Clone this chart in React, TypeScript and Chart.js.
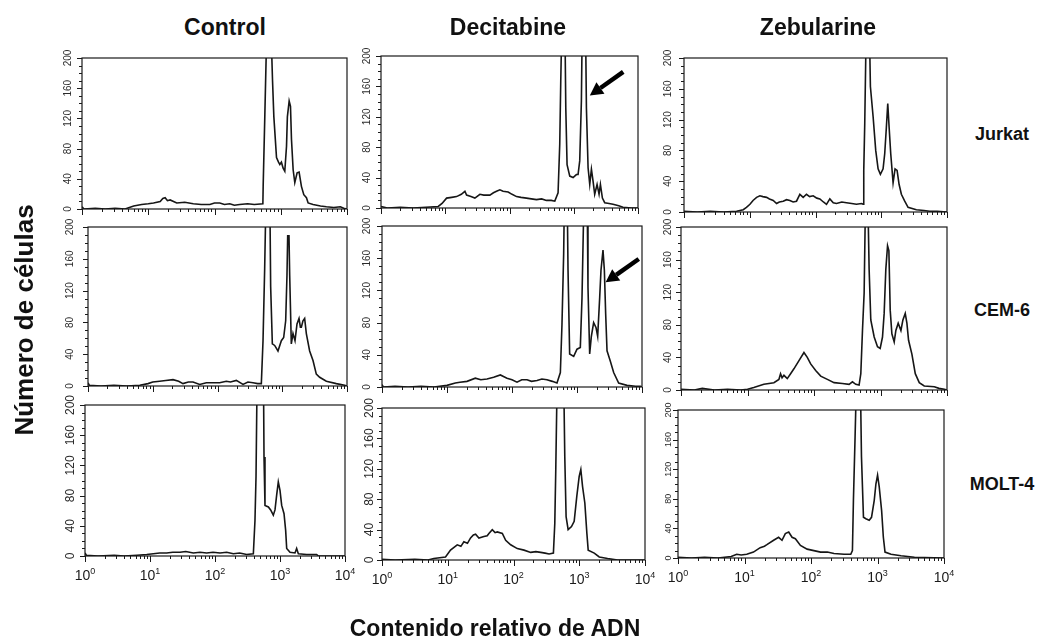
import React, { useEffect, useRef } from 'react';
import { Chart, registerables } from 'chart.js';

Chart.register(...registerables);

type Pt = [number, number];

// ---------- labels ----------
const columnTitles = ['Control', 'Decitabine', 'Zebularine'];
const rowTitles = ['Jurkat', 'CEM-6', 'MOLT-4'];
const yAxisTitle = 'Número de células';
const xAxisTitle = 'Contenido relativo de ADN';
const yTickLabels = [0, 40, 80, 120, 160, 200];
const xTickExponents = ['0', '1', '2', '3', '4'];

// ---------- data: [log10(DNA content), cell count] ----------
const jurkatControl: Pt[] = [[0,3],[0.03,0],[0.2,1],[0.35,0],[0.5,1],[0.65,0],[0.78,4],[0.9,6],[1.0,7],[1.08,8],[1.18,10],[1.22,14],[1.255,15],[1.29,11],[1.33,12],[1.43,8],[1.55,9],[1.68,7],[1.8,6],[1.93,6],[2.0,8],[2.08,8],[2.15,6],[2.23,7],[2.3,5],[2.38,6],[2.5,7],[2.6,6],[2.73,7],[2.735,32],[2.76,125],[2.795,260],[2.845,260],[2.876,170],[2.896,122],[2.936,68],[2.966,62],[2.986,59],[3.01,62],[3.036,54],[3.061,50],[3.087,83],[3.1,122],[3.127,143],[3.147,136],[3.162,92],[3.187,52],[3.212,35],[3.247,48],[3.277,49],[3.312,30],[3.348,19],[3.388,15],[3.413,8],[3.488,6],[3.6,4],[3.689,3],[3.8,2],[3.9,3],[3.95,1],[4,0]];
const jurkatDecitabine: Pt[] = [[0,2],[0.1,0],[0.3,1],[0.5,0],[0.7,1],[0.891,2],[0.95,6],[1.021,13],[1.1,14],[1.176,15],[1.25,18],[1.306,22],[1.332,17],[1.4,15],[1.461,13],[1.539,18],[1.6,17],[1.694,17],[1.75,20],[1.798,22],[1.85,24],[1.9,22],[1.979,21],[2.04,18],[2.109,15],[2.18,14],[2.264,13],[2.34,12],[2.42,11],[2.5,12],[2.575,10],[2.65,10],[2.705,9],[2.756,20],[2.782,84],[2.798,168],[2.819,260],[2.86,260],[2.876,132],[2.896,57],[2.938,42],[2.99,40],[3.041,44],[3.067,44],[3.093,62],[3.119,141],[3.135,260],[3.181,260],[3.197,132],[3.223,53],[3.249,31],[3.275,51],[3.301,35],[3.326,18],[3.363,31],[3.394,18],[3.415,31],[3.446,13],[3.482,7],[3.55,6],[3.611,5],[3.7,3],[3.767,1],[3.9,0],[4,0]];
const jurkatZebularine: Pt[] = [[0,1],[0.2,0],[0.4,1],[0.6,0],[0.8,1],[0.901,3],[0.95,6],[1.003,10],[1.05,15],[1.104,19],[1.154,21],[1.2,20],[1.256,19],[1.3,17],[1.357,15],[1.408,11],[1.45,13],[1.509,14],[1.56,16],[1.61,15],[1.66,13],[1.711,14],[1.762,23],[1.813,19],[1.863,23],[1.91,20],[1.965,21],[2.02,18],[2.066,17],[2.12,13],[2.167,10],[2.218,17],[2.27,12],[2.319,11],[2.4,13],[2.471,12],[2.55,11],[2.623,10],[2.7,11],[2.724,10],[2.734,54],[2.749,115],[2.775,260],[2.815,260],[2.835,163],[2.876,124],[2.916,80],[2.952,56],[2.987,49],[3.028,56],[3.053,76],[3.078,110],[3.099,141],[3.119,111],[3.144,76],[3.18,38],[3.21,56],[3.241,54],[3.271,36],[3.306,23],[3.357,14],[3.408,6],[3.534,3],[3.65,2],[3.737,1],[3.85,1],[4,0]];
const cemControl: Pt[] = [[0,4],[0.02,1],[0.2,0],[0.4,1],[0.6,0],[0.8,1],[0.927,3],[1.0,5],[1.107,6],[1.2,7],[1.313,8],[1.4,6],[1.467,3],[1.55,5],[1.622,5],[1.725,2],[1.828,4],[1.93,4],[2.033,4],[2.136,6],[2.2,5],[2.291,7],[2.394,2],[2.47,5],[2.548,4],[2.62,3],[2.677,3],[2.703,57],[2.728,146],[2.754,260],[2.806,260],[2.821,125],[2.847,53],[2.883,51],[2.934,44],[2.986,57],[3.022,61],[3.053,82],[3.073,139],[3.084,189],[3.104,189],[3.115,139],[3.14,53],[3.166,66],[3.197,57],[3.228,78],[3.259,85],[3.28,74],[3.295,74],[3.32,82],[3.346,85],[3.372,66],[3.423,44],[3.475,32],[3.526,15],[3.578,11],[3.681,6],[3.835,3],[3.964,1],[4,0]];
const cemDecitabine: Pt[] = [[0,3],[0.02,0],[0.2,1],[0.4,0],[0.6,1],[0.8,0],[1.0,2],[1.128,5],[1.2,6],[1.308,7],[1.436,11],[1.52,9],[1.615,10],[1.718,12],[1.821,15],[1.923,11],[2.0,9],[2.077,6],[2.15,9],[2.231,9],[2.3,7],[2.385,8],[2.46,10],[2.538,9],[2.62,7],[2.692,5],[2.744,18],[2.769,78],[2.795,166],[2.81,260],[2.846,260],[2.862,145],[2.887,41],[2.949,38],[3.0,47],[3.051,49],[3.077,111],[3.113,260],[3.154,260],[3.169,124],[3.195,41],[3.221,63],[3.256,80],[3.292,74],[3.318,63],[3.349,111],[3.369,145],[3.4,170],[3.421,145],[3.441,91],[3.462,45],[3.513,32],[3.564,18],[3.641,5],[3.769,2],[3.9,1],[3.974,1],[4,0]];
const cemZebularine: Pt[] = [[0,1],[0.2,0],[0.32,2],[0.5,0],[0.7,1],[0.9,0],[1.0,1],[1.095,3],[1.246,7],[1.397,9],[1.472,13],[1.497,20],[1.52,15],[1.548,18],[1.598,14],[1.648,20],[1.698,26],[1.774,36],[1.849,46],[1.899,40],[1.95,32],[2.025,24],[2.101,17],[2.201,13],[2.302,9],[2.427,8],[2.528,7],[2.578,10],[2.628,7],[2.678,6],[2.704,20],[2.729,73],[2.754,119],[2.779,260],[2.804,260],[2.829,148],[2.854,86],[2.905,65],[2.955,53],[2.995,51],[3.03,65],[3.055,94],[3.08,148],[3.106,177],[3.126,171],[3.146,98],[3.171,69],[3.206,59],[3.231,73],[3.266,82],[3.307,73],[3.337,86],[3.372,94],[3.397,82],[3.422,61],[3.472,44],[3.523,20],[3.583,9],[3.658,5],[3.809,4],[3.88,2],[3.96,1],[4,0]];
const moltControl: Pt[] = [[0,4],[0.02,1],[0.2,0],[0.45,1],[0.6,0],[0.8,1],[0.95,2],[1.051,3],[1.15,4],[1.256,4],[1.35,5],[1.462,5],[1.55,6],[1.667,4],[1.77,5],[1.872,4],[1.97,5],[2.077,4],[2.18,5],[2.282,3],[2.38,4],[2.487,2],[2.59,3],[2.615,47],[2.631,105],[2.651,260],[2.744,260],[2.754,131],[2.769,67],[2.821,65],[2.856,61],[2.897,54],[2.923,61],[2.949,81],[2.974,98],[3.0,87],[3.026,67],[3.062,56],[3.087,34],[3.103,10],[3.154,5],[3.231,4],[3.256,10],[3.282,3],[3.41,2],[3.564,2],[3.59,0],[4,0]];
const moltDecitabine: Pt[] = [[0,1],[0.2,0],[0.5,1],[0.7,0],[0.788,2],[0.966,4],[1.042,13],[1.144,20],[1.2,18],[1.245,24],[1.3,22],[1.347,29],[1.39,33],[1.423,34],[1.474,29],[1.55,31],[1.6,32],[1.626,35],[1.677,40],[1.72,36],[1.753,37],[1.83,35],[1.881,26],[1.957,20],[2.058,15],[2.16,13],[2.262,10],[2.34,11],[2.414,10],[2.48,9],[2.541,8],[2.607,9],[2.628,48],[2.643,119],[2.668,260],[2.76,260],[2.78,136],[2.8,57],[2.831,40],[2.882,44],[2.923,51],[2.963,84],[2.999,110],[3.024,119],[3.05,97],[3.085,75],[3.116,35],[3.136,13],[3.228,9],[3.304,4],[3.431,2],[3.583,0],[4,0]];
const moltZebularine: Pt[] = [[0,1],[0.2,0],[0.4,1],[0.6,0],[0.8,2],[0.883,5],[0.95,4],[1.034,5],[1.135,8],[1.236,14],[1.3,16],[1.337,18],[1.438,24],[1.513,28],[1.564,24],[1.614,33],[1.665,35],[1.715,28],[1.765,26],[1.841,17],[1.942,12],[2.043,10],[2.144,8],[2.245,8],[2.346,6],[2.497,5],[2.598,5],[2.623,10],[2.638,78],[2.663,164],[2.689,260],[2.739,260],[2.759,137],[2.789,55],[2.825,53],[2.875,51],[2.91,55],[2.951,78],[2.976,100],[3.001,112],[3.026,96],[3.062,64],[3.088,28],[3.113,8],[3.203,5],[3.354,3],[3.556,1],[4,0]];

// arrows: [tailLog, tailCount, tipLog, tipCount]
const jurkatDecitabineArrow = [3.77, 179, 3.25, 148];
const cemDecitabineArrow = [3.95, 159, 3.44, 130];

// ---------- layout ----------
const PAD = { left: 40, right: 14, top: 10, bottom: 40 };
const FONT = '"Liberation Sans", Arial, Helvetica, sans-serif';

interface PanelCfg {
  data: Pt[];
  box: [number, number, number, number]; // left, top, right, bottom
  yFont: number;
  yOff: number;
  xLabels: boolean;
  arrow?: number[];
}

const panels: PanelCfg[] = [
  { data: jurkatControl, box: [82, 58, 347, 209], yFont: 10, yOff: 14, xLabels: false },
  { data: jurkatDecitabine, box: [381, 56, 638, 208], yFont: 10, yOff: 14, xLabels: false, arrow: jurkatDecitabineArrow },
  { data: jurkatZebularine, box: [684, 58, 947, 212], yFont: 10, yOff: 16, xLabels: false },
  { data: cemControl, box: [88, 227, 347, 386], yFont: 10, yOff: 18, xLabels: false },
  { data: cemDecitabine, box: [382, 226, 642, 387], yFont: 10, yOff: 15, xLabels: false, arrow: cemDecitabineArrow },
  { data: cemZebularine, box: [681, 227, 947, 390], yFont: 10, yOff: 13, xLabels: false },
  { data: moltControl, box: [85, 405, 345, 556], yFont: 12, yOff: 14, xLabels: true },
  { data: moltDecitabine, box: [382, 408, 645, 560], yFont: 12, yOff: 12, xLabels: true },
  { data: moltZebularine, box: [678, 410, 944, 558], yFont: 9, yOff: 9, xLabels: true },
];

const flowAxesPlugin = {
  id: 'flowAxes',
  afterDraw(chart: any, _args: any, opts: any) {
    const { ctx, chartArea: a, scales } = chart;
    const xs = scales.x;
    const ys = scales.y;
    ctx.save();
    ctx.strokeStyle = '#1a1a1a';
    ctx.lineWidth = 1.2;
    ctx.strokeRect(a.left, a.top, a.right - a.left, a.bottom - a.top);

    // y ticks
    ctx.lineWidth = 1;
    for (let v = 0; v <= 200; v += 10) {
      const py = Math.round(ys.getPixelForValue(v)) + 0.5;
      const len = v % 40 === 0 ? 5 : 3;
      ctx.beginPath();
      ctx.moveTo(a.left - len, py);
      ctx.lineTo(a.left, py);
      ctx.stroke();
    }
    // y labels (rotated)
    ctx.fillStyle = '#2a2a2a';
    ctx.font = `${opts.yFont}px ${FONT}`;
    ctx.textAlign = 'center';
    ctx.textBaseline = 'middle';
    for (const v of yTickLabels) {
      const py = ys.getPixelForValue(v);
      ctx.save();
      ctx.translate(a.left - opts.yOff, py);
      ctx.rotate(-Math.PI / 2);
      ctx.fillText(String(v), 0, 0);
      ctx.restore();
    }
    // x ticks (log decades with minor ticks)
    for (let d = 0; d <= 4; d++) {
      for (let k = 1; k <= 9; k++) {
        if (d === 4 && k > 1) break;
        const px = Math.round(xs.getPixelForValue(k * Math.pow(10, d))) + 0.5;
        const len = k === 1 ? 6 : 3;
        ctx.beginPath();
        ctx.moveTo(px, a.bottom);
        ctx.lineTo(px, a.bottom + len);
        ctx.stroke();
      }
    }
    // x labels
    if (opts.xLabels) {
      ctx.fillStyle = '#1a1a1a';
      ctx.textAlign = 'left';
      ctx.textBaseline = 'alphabetic';
      xTickExponents.forEach((e, d) => {
        const px = xs.getPixelForValue(Math.pow(10, d));
        ctx.font = `14px ${FONT}`;
        const w1 = ctx.measureText('10').width;
        ctx.font = `9px ${FONT}`;
        const w2 = ctx.measureText(e).width;
        const start = px - (w1 + w2) / 2;
        const base = a.bottom + 24;
        ctx.font = `14px ${FONT}`;
        ctx.fillText('10', start, base);
        ctx.font = `9px ${FONT}`;
        ctx.fillText(e, start + w1, base - 6);
      });
    }
    // arrow
    if (opts.arrow) {
      const [tl, tc, hl, hc] = opts.arrow;
      const x1 = xs.getPixelForValue(Math.pow(10, tl));
      const y1 = ys.getPixelForValue(tc);
      const x2 = xs.getPixelForValue(Math.pow(10, hl));
      const y2 = ys.getPixelForValue(hc);
      const ang = Math.atan2(y2 - y1, x2 - x1);
      const headLen = 13;
      const headW = 7;
      const bx = x2 - headLen * Math.cos(ang);
      const by = y2 - headLen * Math.sin(ang);
      ctx.strokeStyle = '#000';
      ctx.fillStyle = '#000';
      ctx.lineWidth = 4.5;
      ctx.lineCap = 'butt';
      ctx.beginPath();
      ctx.moveTo(x1, y1);
      ctx.lineTo(bx, by);
      ctx.stroke();
      ctx.beginPath();
      ctx.moveTo(x2, y2);
      ctx.lineTo(bx + headW * Math.sin(ang), by - headW * Math.cos(ang));
      ctx.lineTo(bx - headW * Math.sin(ang), by + headW * Math.cos(ang));
      ctx.closePath();
      ctx.fill();
    }
    ctx.restore();
  },
};

function Panel({ cfg }: { cfg: PanelCfg }) {
  const ref = useRef<HTMLCanvasElement>(null);
  const [l, t, r, b] = cfg.box;
  const w = r - l + PAD.left + PAD.right;
  const h = b - t + PAD.top + PAD.bottom;

  useEffect(() => {
    const chart = new Chart(ref.current as HTMLCanvasElement, {
      type: 'line',
      data: {
        datasets: [
          {
            data: cfg.data.map(([lx, c]) => ({ x: Math.pow(10, lx), y: c })),
            borderColor: '#161616',
            borderWidth: 1.6,
            pointRadius: 0,
            tension: 0,
            fill: false,
          },
        ],
      },
      options: {
        animation: false,
        responsive: false,
        maintainAspectRatio: false,
        devicePixelRatio: 1,
        layout: { padding: PAD },
        scales: {
          x: { type: 'logarithmic', min: 1, max: 10000, display: false },
          y: { type: 'linear', min: 0, max: 200, display: false },
        },
        plugins: {
          legend: { display: false },
          tooltip: { enabled: false },
          flowAxes: { yFont: cfg.yFont, yOff: cfg.yOff, xLabels: cfg.xLabels, arrow: cfg.arrow },
        } as any,
      },
      plugins: [flowAxesPlugin],
    });
    return () => chart.destroy();
  }, []);

  return (
    <canvas
      ref={ref}
      width={w}
      height={h}
      style={{ position: 'absolute', left: l - PAD.left, top: t - PAD.top, width: w, height: h }}
    />
  );
}

const labelBase: React.CSSProperties = {
  position: 'absolute',
  fontFamily: FONT,
  fontWeight: 'bold',
  color: '#111',
  whiteSpace: 'nowrap',
  lineHeight: 1,
  transform: 'translate(-50%, -50%)',
};

const colCenters = [225, 508, 818];
const rowCenters = [134, 310, 484];

export default function App() {
  return (
    <div style={{ position: 'absolute', left: 0, top: 0, width: 1043, height: 642, background: '#fff', overflow: 'hidden' }}>
      {panels.map((p, i) => (
        <Panel key={i} cfg={p} />
      ))}
      {columnTitles.map((t, i) => (
        <div key={t} style={{ ...labelBase, left: colCenters[i], top: 27, fontSize: 23 }}>
          {t}
        </div>
      ))}
      {rowTitles.map((t, i) => (
        <div key={t} style={{ ...labelBase, left: 1002, top: rowCenters[i], fontSize: 18 }}>
          {t}
        </div>
      ))}
      <div style={{ ...labelBase, left: 24, top: 320, fontSize: 26, transform: 'translate(-50%, -50%) rotate(-90deg)' }}>
        {yAxisTitle}
      </div>
      <div style={{ ...labelBase, left: 495, top: 628, fontSize: 23 }}>{xAxisTitle}</div>
    </div>
  );
}
